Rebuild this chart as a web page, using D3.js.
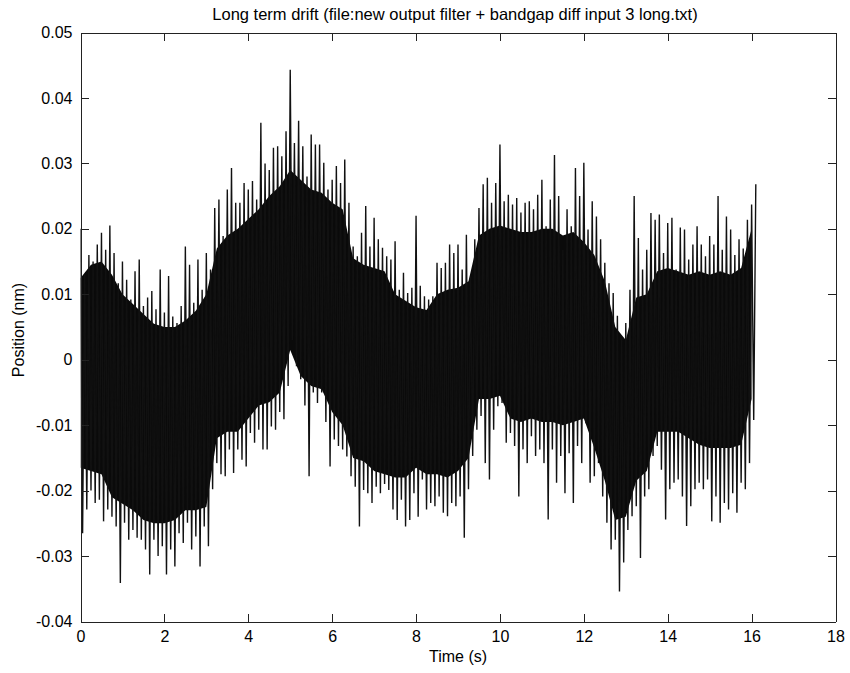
<!DOCTYPE html>
<html><head><meta charset="utf-8">
<script src="https://cdn.jsdelivr.net/npm/d3@7"></script>
<style>
body{margin:0;background:#fff}
text{font-family:"Liberation Sans",Arial,Helvetica,sans-serif;fill:#000}
</style>
</head><body>
<svg id="chart" width="850" height="673"></svg>
<script>
const titleText = "Long term drift (file:new output filter + bandgap diff input 3 long.txt)";
const xLabelText = "Time (s)";
const yLabelText = "Position (nm)";
const xTicks = [0, 2, 4, 6, 8, 10, 12, 14, 16, 18];
const xTickLabels = ["0", "2", "4", "6", "8", "10", "12", "14", "16", "18"];
const yTicks = [-0.04, -0.03, -0.02, -0.01, 0, 0.01, 0.02, 0.03, 0.04, 0.05];
const yTickLabels = ["-0.04", "-0.03", "-0.02", "-0.01", "0", "0.01", "0.02", "0.03", "0.04", "0.05"];

// sampling interval of the extremes (s)
const sampleStep = 0.1;
// local maxima at t = 0, 0.1, 0.2, ... (nm)
const peakHigh = [
 0.0200,0.0130,0.0160,0.0150,0.0176,0.0194,0.0168,0.0205,0.0163,0.0117,
 0.0150,0.0122,0.0092,0.0135,0.0153,0.0082,0.0095,0.0105,0.0077,0.0138,
 0.0072,0.0128,0.0066,0.0056,0.0082,0.0173,0.0145,0.0087,0.0153,0.0107,
 0.0163,0.0138,0.0232,0.0245,0.0189,0.0260,0.0293,0.0240,0.0240,0.0270,
 0.0260,0.0273,0.0245,0.0362,0.0300,0.0290,0.0324,0.0326,0.0311,0.0349,
 0.0443,0.0331,0.0365,0.0326,0.0280,0.0344,0.0329,0.0329,0.0301,0.0260,
 0.0275,0.0296,0.0270,0.0306,0.0240,0.0173,0.0158,0.0194,0.0235,0.0173,
 0.0217,0.0184,0.0171,0.0158,0.0153,0.0181,0.0107,0.0133,0.0102,0.0110,
 0.0220,0.0113,0.0097,0.0092,0.0097,0.0148,0.0140,0.0148,0.0176,0.0163,
 0.0176,0.0138,0.0191,0.0127,0.0184,0.0232,0.0268,0.0278,0.0240,0.0270,
 0.0329,0.0242,0.0252,0.0237,0.0247,0.0225,0.0240,0.0242,0.0230,0.0252,
 0.0275,0.0204,0.0245,0.0313,0.0250,0.0168,0.0230,0.0204,0.0293,0.0250,
 0.0301,0.0199,0.0242,0.0219,0.0184,0.0148,0.0117,0.0102,0.0067,0.0031,
 0.0056,0.0107,0.0250,0.0186,0.0138,0.0168,0.0224,0.0214,0.0222,0.0163,
 0.0209,0.0217,0.0138,0.0202,0.0199,0.0153,0.0176,0.0204,0.0176,0.0158,
 0.0189,0.0176,0.0250,0.0168,0.0219,0.0199,0.0160,0.0184,0.0170,0.0214,
 0.0237,0.0268
];
// local minima at t = 0.05, 0.15, 0.25, ... (nm)
const peakLow = [
 -0.0265,-0.0229,-0.0200,-0.0219,-0.0214,-0.0247,-0.0229,-0.0240,-0.0255,-0.0341,
 -0.0249,-0.0275,-0.0260,-0.0272,-0.0275,-0.0290,-0.0328,-0.0275,-0.0300,-0.0285,
 -0.0328,-0.0290,-0.0316,-0.0265,-0.0280,-0.0249,-0.0290,-0.0270,-0.0316,-0.0255,
 -0.0285,-0.0198,-0.0158,-0.0175,-0.0178,-0.0137,-0.0173,-0.0137,-0.0153,-0.0163,
 -0.0112,-0.0127,-0.0107,-0.0137,-0.0137,-0.0102,-0.0107,-0.0080,-0.0091,-0.0040,
  0.0030,-0.0010,-0.0030,-0.0070,-0.0178,-0.0050,-0.0066,-0.0050,-0.0095,-0.0163,
 -0.0122,-0.0132,-0.0137,-0.0148,-0.0178,-0.0194,-0.0255,-0.0199,-0.0204,-0.0219,
 -0.0194,-0.0204,-0.0190,-0.0199,-0.0229,-0.0245,-0.0214,-0.0255,-0.0245,-0.0204,
 -0.0240,-0.0183,-0.0229,-0.0219,-0.0224,-0.0209,-0.0234,-0.0239,-0.0219,-0.0224,
 -0.0209,-0.0272,-0.0198,-0.0147,-0.0107,-0.0086,-0.0158,-0.0183,-0.0107,-0.0071,
 -0.0066,-0.0127,-0.0112,-0.0132,-0.0209,-0.0137,-0.0158,-0.0117,-0.0147,-0.0137,
 -0.0158,-0.0244,-0.0137,-0.0188,-0.0147,-0.0204,-0.0143,-0.0219,-0.0132,-0.0158,
 -0.0097,-0.0188,-0.0178,-0.0158,-0.0209,-0.0249,-0.0290,-0.0275,-0.0354,-0.0310,
 -0.0260,-0.0239,-0.0224,-0.0303,-0.0209,-0.0198,-0.0147,-0.0132,-0.0168,-0.0244,
 -0.0198,-0.0188,-0.0183,-0.0209,-0.0254,-0.0224,-0.0198,-0.0188,-0.0198,-0.0183,
 -0.0247,-0.0209,-0.0249,-0.0219,-0.0229,-0.0204,-0.0234,-0.0188,-0.0198,-0.0158,
 -0.0092
];
// solid dense band of the trace, read every 0.25 s (nm)
const coreStep = 0.25;
const coreTop = [
 0.0125,0.0145,0.0150,0.0130,0.0100,0.0085,0.0070,0.0055,0.0050,0.0050,
 0.0060,0.0075,0.0100,0.0170,0.0190,0.0200,0.0215,0.0230,0.0250,0.0265,
 0.0290,0.0275,0.0260,0.0255,0.0240,0.0230,0.0155,0.0145,0.0140,0.0135,
 0.0100,0.0090,0.0080,0.0076,0.0100,0.0107,0.0110,0.0120,0.0190,0.0200,
 0.0205,0.0200,0.0195,0.0195,0.0200,0.0200,0.0190,0.0195,0.0180,0.0160,
 0.0120,0.0050,0.0030,0.0095,0.0100,0.0135,0.0140,0.0135,0.0130,0.0135,
 0.0130,0.0135,0.0130,0.0140,0.0200
];
const coreBottom = [
 -0.0165,-0.0170,-0.0175,-0.0210,-0.0220,-0.0230,-0.0245,-0.0250,-0.0250,-0.0245,
 -0.0230,-0.0230,-0.0225,-0.0120,-0.0110,-0.0110,-0.0090,-0.0070,-0.0065,-0.0050,
  0.0015,-0.0025,-0.0040,-0.0045,-0.0080,-0.0100,-0.0150,-0.0155,-0.0170,-0.0175,
 -0.0180,-0.0180,-0.0165,-0.0175,-0.0175,-0.0180,-0.0170,-0.0150,-0.0060,-0.0060,
 -0.0055,-0.0090,-0.0095,-0.0090,-0.0095,-0.0095,-0.0100,-0.0095,-0.0090,-0.0135,
 -0.0185,-0.0245,-0.0240,-0.0185,-0.0170,-0.0110,-0.0110,-0.0110,-0.0120,-0.0130,
 -0.0135,-0.0135,-0.0135,-0.0130,-0.0060
];

const svg = d3.select("#chart");
const x = d3.scaleLinear().domain([0, 18]).range([80.5, 835.5]);
const y = d3.scaleLinear().domain([-0.04, 0.05]).range([621.5, 32.5]);

svg.append("defs").append("clipPath").attr("id", "plotClip")
  .append("rect").attr("x", x(0)).attr("y", y(0.05))
  .attr("width", x(18) - x(0)).attr("height", y(-0.04) - y(0.05));

const plot = svg.append("g").attr("clip-path", "url(#plotClip)");

// dense core of the trace
const coreData = coreTop.map((v, i) => ({t: i * coreStep, top: v, bottom: coreBottom[i]}));
plot.append("path")
  .attr("d", d3.area().x(d => x(d.t)).y0(d => y(d.bottom)).y1(d => y(d.top))(coreData))
  .attr("fill", "#0a0a0a");

// signal extremes: alternating maxima / minima
const pts = [];
peakHigh.forEach((v, i) => {
  pts.push([i * sampleStep, v]);
  if (i < peakLow.length) pts.push([(i + 0.5) * sampleStep, peakLow[i]]);
});
const line = d3.line().x(d => x(d[0])).y(d => y(d[1]));
plot.append("path")
  .attr("d", line(pts))
  .attr("fill", "none")
  .attr("stroke", "#111")
  .attr("stroke-width", 1.4)
  .attr("stroke-linejoin", "miter");

function styleAxis(g) {
  g.selectAll("path.domain").attr("stroke", "#222").attr("stroke-width", 1).attr("shape-rendering", "crispEdges");
  g.selectAll(".tick line").attr("stroke", "#222").attr("stroke-width", 1).attr("shape-rendering", "crispEdges");
  g.selectAll(".tick text").attr("font-size", "16px").attr("fill", "#000")
    .attr("font-family", "'Liberation Sans', Arial, sans-serif");
}

const xFmt = d => xTickLabels[xTicks.indexOf(d)];
const yFmt = d => yTickLabels[yTicks.findIndex(t => Math.abs(t - d) < 1e-9)];

svg.append("g").attr("transform", `translate(0,${y(-0.04)})`)
  .call(d3.axisBottom(x).tickValues(xTicks).tickFormat(xFmt).tickSizeInner(-8).tickSizeOuter(0).tickPadding(9.5))
  .call(styleAxis);
svg.append("g").attr("transform", `translate(0,${y(0.05)})`)
  .call(d3.axisTop(x).tickValues(xTicks).tickFormat("").tickSizeInner(-8).tickSizeOuter(0))
  .call(styleAxis);
svg.append("g").attr("transform", `translate(${x(0)},0)`)
  .call(d3.axisLeft(y).tickValues(yTicks).tickFormat(yFmt).tickSizeInner(-8).tickSizeOuter(0).tickPadding(8))
  .call(styleAxis);
svg.append("g").attr("transform", `translate(${x(18)},0)`)
  .call(d3.axisRight(y).tickValues(yTicks).tickFormat("").tickSizeInner(-8).tickSizeOuter(0))
  .call(styleAxis);

svg.append("text").attr("x", 455).attr("y", 20).attr("text-anchor", "middle")
  .attr("font-size", "16.5px").text(titleText);
svg.append("text").attr("x", 458).attr("y", 662).attr("text-anchor", "middle")
  .attr("font-size", "16px").text(xLabelText);
svg.append("text").attr("transform", "translate(24,330) rotate(-90)").attr("text-anchor", "middle")
  .attr("font-size", "16px").text(yLabelText);
</script>
</body></html>
